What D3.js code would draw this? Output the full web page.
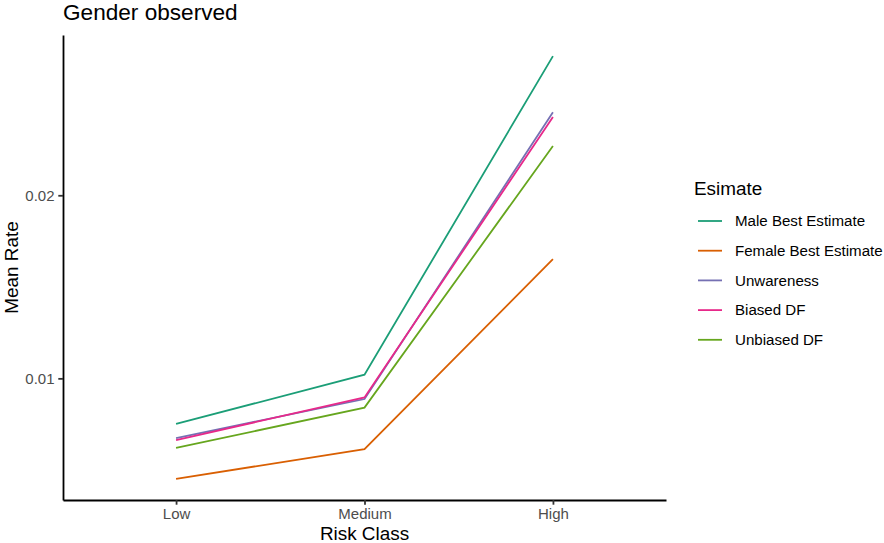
<!DOCTYPE html>
<html>
<head>
<meta charset="utf-8">
<script src="https://cdn.jsdelivr.net/npm/d3@7"></script>
<style>
  body { margin: 0; background: #fff; }
  svg text { font-family: "Liberation Sans", Arial, sans-serif; }
</style>
</head>
<body>
<div class="chart"></div>
<script>
// data
const riskClasses = ["Low", "Medium", "High"];
const seriesNames = ["Male Best Estimate", "Female Best Estimate", "Unwareness", "Biased DF", "Unbiased DF"];
const maleBest = [0.00751, 0.01020, 0.02760];
const femaleBest = [0.00451, 0.00613, 0.01651];
const unawareness = [0.00674, 0.00887, 0.02454];
const biasedDF = [0.00663, 0.00896, 0.02427];
const unbiasedDF = [0.00620, 0.00840, 0.02269];
const yTicks = [0.01, 0.02];
const colors = ["#1B9E77", "#D95F02", "#7570B3", "#E7298A", "#66A61E"];

const seriesValues = [maleBest, femaleBest, unawareness, biasedDF, unbiasedDF];
const series = seriesNames.map((name, i) => ({
    name: name,
    color: colors[i],
    values: riskClasses.map((c, j) => ({ cls: c, v: seriesValues[i][j] }))
}));

const W = 884, H = 543;
const margin = { top: 35, right: 218, bottom: 43, left: 63 };
const width = W - margin.left - margin.right,
    height = H - margin.top - margin.bottom;

const svg = d3.select(".chart")
    .append("svg")
    .attr("width", W)
    .attr("height", H);

const g = svg.append("g")
    .attr("transform", `translate(${margin.left}, ${margin.top})`);

// discrete x scale with ggplot-like 0.6 expansion
const xScale = d3.scalePoint()
    .domain(riskClasses)
    .range([0, width])
    .padding(0.6);

const allVals = seriesValues.flat();
const lo = d3.min(allVals), hi = d3.max(allVals);
const pad = (hi - lo) * 0.05;
const yScale = d3.scaleLinear()
    .domain([lo - pad, hi + pad])
    .range([height, 0]);

// lines
const line = d3.line()
    .x(d => xScale(d.cls))
    .y(d => yScale(d.v));

g.selectAll(".series")
    .data(series)
    .enter()
    .append("path")
    .attr("class", "series")
    .attr("d", d => line(d.values))
    .attr("fill", "none")
    .attr("stroke", d => d.color)
    .attr("stroke-width", 1.8);

// axes
const xAxis = g.append("g")
    .attr("transform", `translate(0, ${height})`)
    .call(d3.axisBottom(xScale).tickSize(4.7).tickSizeOuter(0).tickPadding(3.8));
const yAxis = g.append("g")
    .call(d3.axisLeft(yScale).tickValues(yTicks).tickFormat(d3.format(".2f"))
        .tickSize(4.7).tickSizeOuter(0).tickPadding(3.8));

[xAxis, yAxis].forEach(ax => {
    ax.select(".domain").attr("stroke", "#000").attr("stroke-width", 1.8);
    ax.selectAll(".tick line").attr("stroke", "#333").attr("stroke-width", 1.8);
    ax.selectAll(".tick text").attr("fill", "#4D4D4D").style("font-size", "15px");
});

// titles
svg.append("text")
    .attr("x", 63)
    .attr("y", 20)
    .style("font-size", "22.6px")
    .attr("fill", "#000")
    .text("Gender observed");

svg.append("text")
    .attr("x", margin.left + width / 2)
    .attr("y", 539.5)
    .attr("text-anchor", "middle")
    .style("font-size", "18.9px")
    .text("Risk Class");

svg.append("text")
    .attr("transform", `translate(18, ${margin.top + height / 2}) rotate(-90)`)
    .attr("text-anchor", "middle")
    .style("font-size", "18.9px")
    .text("Mean Rate");

// legend
const legend = svg.append("g")
    .attr("transform", "translate(694, 0)");

legend.append("text")
    .attr("x", 0)
    .attr("y", 195)
    .style("font-size", "18.9px")
    .text("Esimate");

const items = legend.selectAll(".item")
    .data(series)
    .enter()
    .append("g")
    .attr("class", "item")
    .attr("transform", (d, i) => `translate(0, ${221 + i * 29.7})`);

items.append("line")
    .attr("x1", 4).attr("x2", 28)
    .attr("stroke", d => d.color)
    .attr("stroke-width", 1.8);

items.append("text")
    .attr("x", 41)
    .attr("dy", "0.35em")
    .style("font-size", "15.1px")
    .text(d => d.name);
</script>
</body>
</html>
